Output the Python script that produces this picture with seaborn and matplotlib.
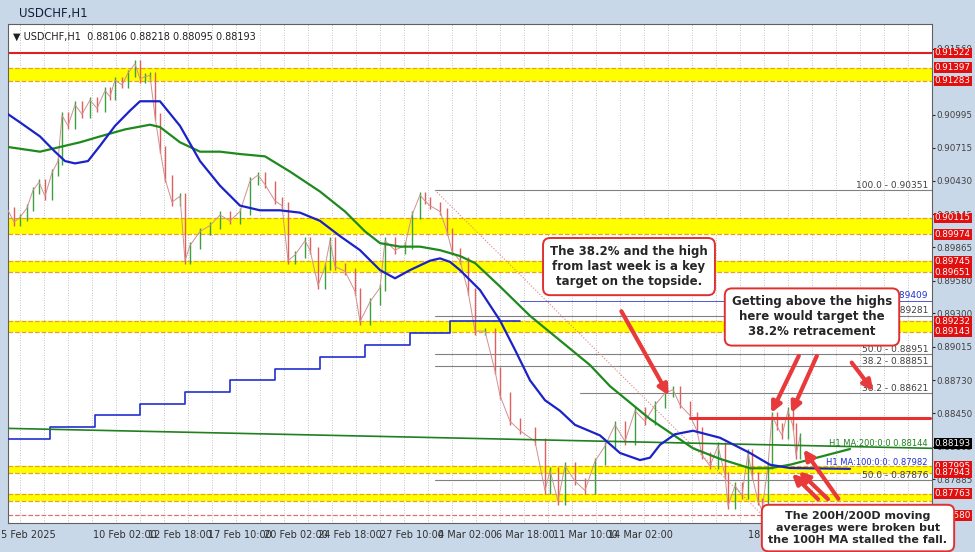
import numpy as np
import pandas as pd
import matplotlib
matplotlib.use("Agg")
import matplotlib.pyplot as plt
import matplotlib.transforms as mtransforms
import seaborn as sns

sns.set_style("white")
plt.rcParams['font.family'] = ['DejaVu Sans']

# ── price path (bar position, close) ───────────────────────────────
bar = [8, 14, 20, 27, 33, 39, 45, 52, 58, 62, 68, 75, 82, 90, 97, 105, 110, 115, 122, 128, 135, 140, 145,
       150, 155, 160, 165, 172, 180, 185, 190, 200, 210, 220, 230, 240, 250, 258, 265, 275, 282, 288, 295,
       305, 310, 318, 325, 330, 335, 345, 355, 360, 370, 380, 385, 395, 405, 412, 420, 425, 430, 440, 447,
       452, 460, 468, 475, 485, 495, 500, 510, 520, 535, 545, 550, 558, 565, 575, 585, 595, 605, 615, 625,
       635, 645, 655, 665, 673, 680, 690, 697, 702, 710, 718, 725, 728, 735, 742, 748, 752, 758, 762, 768,
       772, 777, 782, 788, 793, 796, 800]
close = [0.90180, 0.90080, 0.90120, 0.90200, 0.90350, 0.90420, 0.90300, 0.90500, 0.90600, 0.90990,
         0.90900, 0.91080, 0.91000, 0.91120, 0.91050, 0.91200, 0.91150, 0.91290, 0.91250, 0.91350, 0.91430,
         0.91300, 0.91320, 0.91330, 0.90980, 0.90700, 0.90450, 0.90250, 0.90300, 0.89750, 0.89880, 0.90000,
         0.90050, 0.90140, 0.90090, 0.90170, 0.90430, 0.90480, 0.90400, 0.90260, 0.90220, 0.89750, 0.89800,
         0.89920, 0.89840, 0.89540, 0.89700, 0.89920, 0.89700, 0.89660, 0.89490, 0.89230, 0.89400, 0.89520,
         0.89920, 0.89840, 0.89880, 0.90140, 0.90310, 0.90260, 0.90220, 0.90170, 0.90000, 0.89830, 0.89750,
         0.89490, 0.89150, 0.89150, 0.88810, 0.88600, 0.88380, 0.88300, 0.88210, 0.87790, 0.87960, 0.87700,
         0.88000, 0.87870, 0.87790, 0.88040, 0.88170, 0.88350, 0.88210, 0.88470, 0.88380, 0.88520, 0.88620,
         0.88650, 0.88520, 0.88430, 0.88300, 0.88090, 0.88000, 0.88170, 0.87920, 0.87660, 0.87830, 0.87750,
         0.88110, 0.87920, 0.87700, 0.87620, 0.88000, 0.88430, 0.88340, 0.88260, 0.88470, 0.88340, 0.88090,
         0.88250]

# ── moving averages ────────────────────────────────────────────────
ma100_bar = [8, 20, 40, 55, 65, 75, 88, 100, 115, 130, 140, 160, 180, 200, 220, 240, 260, 280, 300, 320,
             340, 360, 380, 395, 410, 420, 430, 440, 450, 460, 480, 500, 515, 530, 545, 560, 575, 600, 620,
             640, 650, 660, 675, 693, 720, 750, 770, 790, 850]
ma100 = [0.91000, 0.90930, 0.90810, 0.90680, 0.90600, 0.90580, 0.90600, 0.90730, 0.90900, 0.91030,
         0.91110, 0.91110, 0.90900, 0.90600, 0.90390, 0.90220, 0.90180, 0.90180, 0.90160, 0.90090, 0.89960,
         0.89840, 0.89670, 0.89600, 0.89670, 0.89710, 0.89750, 0.89770, 0.89740, 0.89670, 0.89500, 0.89240,
         0.88990, 0.88730, 0.88560, 0.88470, 0.88350, 0.88260, 0.88110, 0.88050, 0.88070, 0.88180, 0.88270,
         0.88300, 0.88240, 0.88110, 0.88010, 0.87982, 0.87975]
ma200_bar = [8, 40, 60, 80, 100, 125, 150, 160, 180, 200, 220, 240, 265, 290, 320, 345, 365, 380, 400, 420,
             440, 460, 475, 500, 530, 560, 590, 610, 650, 693, 720, 750, 770, 790, 850]
ma200 = [0.90720, 0.90680, 0.90720, 0.90760, 0.90810, 0.90870, 0.90910, 0.90890, 0.90760, 0.90680,
         0.90680, 0.90660, 0.90640, 0.90510, 0.90340, 0.90170, 0.90000, 0.89900, 0.89870, 0.89870, 0.89840,
         0.89790, 0.89730, 0.89530, 0.89280, 0.89070, 0.88860, 0.88680, 0.88400, 0.88150, 0.88060, 0.87980,
         0.87980, 0.88010, 0.88144]
d200_bar = [8, 932]
d200 = [0.88320, 0.88150]
d100_bar = [8, 50, 50, 95, 95, 140, 140, 185, 185, 230, 230, 275, 275, 320, 320, 365, 365, 410, 410, 450,
            450, 520]
d100 = [0.88230, 0.88230, 0.88330, 0.88330, 0.88430, 0.88430, 0.88530, 0.88530, 0.88630, 0.88630, 0.88730,
        0.88730, 0.88830, 0.88830, 0.88930, 0.88930, 0.89030, 0.89030, 0.89130, 0.89130, 0.89240, 0.89240]

# ── levels ─────────────────────────────────────────────────────────
bands = [(0.91283, 0.91397), (0.89974, 0.90115), (0.89651, 0.89745), (0.89143, 0.89232),
         (0.87943, 0.87995), (0.87700, 0.87763)]
red_labels = [0.91522, 0.91397, 0.91283, 0.90115, 0.89974, 0.89745, 0.89651, 0.89232, 0.89143,
              0.87995, 0.87943, 0.87763, 0.87580]
fib_levels = [(435, 0.90351, "100.0 - 0.90351"), (435, 0.89281, "61.8 - 0.89281"),
              (435, 0.88951, "50.0 - 0.88951"), (435, 0.88851, "38.2 - 0.88851"),
              (580, 0.88621, "38.2 - 0.88621"), (435, 0.87876, "50.0 - 0.87876")]
yticks = [0.91560, 0.90995, 0.90715, 0.90430, 0.90145, 0.89865, 0.89580, 0.89300, 0.89015,
          0.88730, 0.88450, 0.88165, 0.87885]
xtick_pos = [28, 125, 180, 240, 296, 350, 412, 467, 525, 585, 640, 780]
xtick_lab = ["5 Feb 2025", "10 Feb 02:00", "12 Feb 18:00", "17 Feb 10:00", "20 Feb 02:00",
             "24 Feb 18:00", "27 Feb 10:00", "4 Mar 02:00", "6 Mar 18:00", "11 Mar 10:00",
             "14 Mar 02:00", "18 Mar 18:00"]

fig = plt.figure(figsize=(9.75, 5.52), dpi=100)
fig.patch.set_facecolor('#c9d8e8')
fig.text(0.02, 0.975, "USDCHF,H1", fontsize=8.5, va='center', color='#10203a')
ax = fig.add_axes([8/975, 1-523/552, 924/975, 499/552])
ax.set_facecolor('white')
ax.set_xlim(8, 932)
ax.set_ylim(0.87513, 0.91769)

for gx in range(20, 932, 24):
    ax.axvline(gx, color='#b0b0b0', lw=0.6, ls=(0, (1, 2)), zorder=0)

for lo, hi in bands:
    ax.axhspan(lo, hi, color='#ffff00', zorder=1, lw=0)
    ax.axhline(lo, color='#e8a020', lw=0.9, ls='--', zorder=1)
    ax.axhline(hi, color='#e8a020', lw=0.9, ls='--', zorder=1)
ax.axhline(0.91522, color='#e02020', lw=1.5, zorder=2)
ax.axhline(0.87580, color='#e07070', lw=0.9, ls='--', zorder=2)

for x0, lv, lab in fib_levels:
    ax.plot([x0, 932], [lv, lv], color='#808080', lw=0.8, zorder=2)
    ax.text(928, lv + 0.00005, lab, ha='right', va='bottom', fontsize=6.5, color='#404040')
ax.plot([520, 932], [0.89409, 0.89409], color='#3040d0', lw=0.6, zorder=2)
ax.text(928, 0.89414, "100:0:0: 0.89409", ha='right', va='bottom', fontsize=6.5, color='#2030d0')
ax.text(928, 0.88150, "H1 MA:200:0:0 0.88144", ha='right', va='bottom', fontsize=6, color='#208020')
ax.text(928, 0.87990, "H1 MA:100:0:0: 0.87982", ha='right', va='bottom', fontsize=6, color='#2030d0')
ax.plot([435, 760], [0.90351, 0.87600], color='#e08080', lw=0.8, ls=':', zorder=2)

# price path as up/down segments
prev = close[:-1]
for i in range(1, len(close)):
    c = '#3aa040' if close[i] >= prev[i-1] else '#e06060'
    ax.vlines(bar[i], min(prev[i-1], close[i]) - 0.0003, max(prev[i-1], close[i]) + 0.0003,
              color=c, lw=1.0, zorder=3)
sns.lineplot(x=bar, y=close, ax=ax, color='#d09090', lw=0.7, zorder=3)

sns.lineplot(x=d100_bar, y=d100, ax=ax, color='#2030d0', lw=1.2, zorder=4, sort=False, estimator=None)
sns.lineplot(x=d200_bar, y=d200, ax=ax, color='#208020', lw=1.2, zorder=4)
sns.lineplot(x=ma200_bar, y=ma200, ax=ax, color='#1e8a1e', lw=1.6, zorder=5)
sns.lineplot(x=ma100_bar, y=ma100, ax=ax, color='#1a22c8', lw=1.6, zorder=5)
ax.plot([690, 930], [0.88410, 0.88410], color='#e83030', lw=2.2, zorder=6)

# right axis
ax.yaxis.tick_right()
ax.set_yticks(yticks)
ax.set_yticklabels([f"{v:.5f}" for v in yticks], fontsize=6.3, color='#404040')
ax.tick_params(axis='y', length=2, pad=1.5)
trans = mtransforms.blended_transform_factory(ax.transAxes, ax.transData)
for v in red_labels:
    ax.text(1.003, v, f"{v:.5f}", transform=trans, fontsize=6.3, color='white', va='center',
            bbox=dict(boxstyle='square,pad=0.1', fc='#e01010', ec='none'), clip_on=False)
ax.text(1.003, 0.88193, "0.88193", transform=trans, fontsize=6.3, color='white', va='center',
        bbox=dict(boxstyle='square,pad=0.1', fc='black', ec='none'), clip_on=False)

ax.set_xticks(xtick_pos)
ax.set_xticklabels(xtick_lab, fontsize=7, color='#303030')
ax.tick_params(axis='x', length=3, pad=2)
for s in ax.spines.values():
    s.set_color('#606060')
    s.set_linewidth(0.8)
ax.set_xlabel("")
ax.set_ylabel("")
ax.text(0.005, 0.985, "\u25bc USDCHF,H1  0.88106 0.88218 0.88095 0.88193", transform=ax.transAxes,
        fontsize=7, va='top', color='#202020')

# annotations
box = dict(boxstyle='round,pad=0.6', fc='white', ec='#e03030', lw=1.4)
arrow = dict(arrowstyle='-|>', color='#e83a3a', lw=3, mutation_scale=15)
ax.text(629, 0.89700, "The 38.2% and the high\nfrom last week is a key\ntarget on the topside.",
        ha='center', va='center', fontsize=8.5, fontweight='bold', bbox=box, zorder=10)
ax.annotate("", xy=(670, 0.88580), xytext=(620, 0.89340), arrowprops=arrow, zorder=9)
ax.text(812, 0.89270, "Getting above the highs\nhere would target the\n38.2% retracement",
        ha='center', va='center', fontsize=8.5, fontweight='bold', bbox=box, zorder=10)
for tx, ty, hx, hy in [(800, 0.88960, 770, 0.88430), (818, 0.88960, 790, 0.88430),
                       (850, 0.88900, 875, 0.88620)]:
    ax.annotate("", xy=(hx, hy), xytext=(tx, ty), arrowprops=arrow, zorder=9)
for tx, ty, hx, hy in [(840, 0.87700, 802, 0.88160), (830, 0.87700, 797, 0.87970),
                       (820, 0.87700, 790, 0.87950)]:
    ax.annotate("", xy=(hx, hy), xytext=(tx, ty), arrowprops=arrow, zorder=9)
ax.text(858, 0.87470, "The 200H/200D moving\naverages were broken but\nthe 100H MA stalled the fall.",
        ha='center', va='center', fontsize=8, fontweight='bold', bbox=box, zorder=10, clip_on=False)

fig.savefig("out.png", dpi=100)
